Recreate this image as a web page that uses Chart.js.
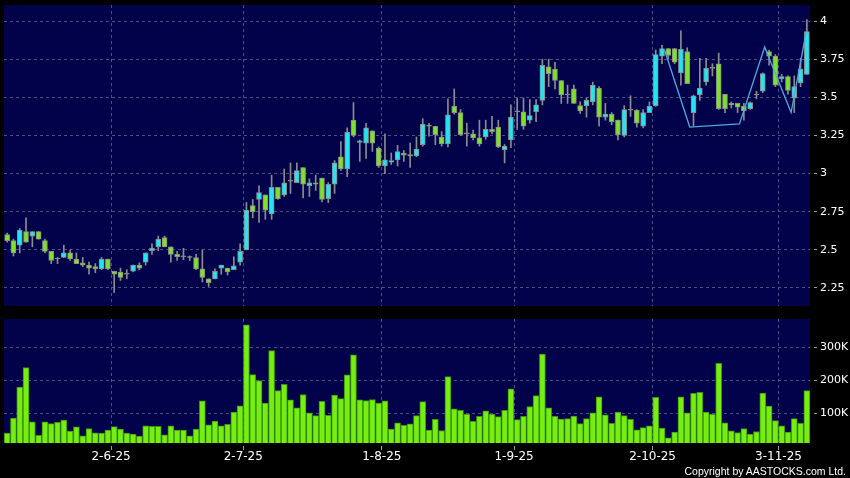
<!DOCTYPE html>
<html>
<head>
<meta charset="utf-8">
<script src="https://cdn.jsdelivr.net/npm/chart.js@4/dist/chart.umd.min.js"></script>
<style>
  html, body { margin: 0; padding: 0; background: #000; }
  #wrap { position: relative; width: 850px; height: 478px; background: #000; overflow: hidden; }
  #priceChart { position: absolute; left: 0; top: 0; }
  #volChart { position: absolute; left: 0; top: 310px; }
  #copy { position: absolute; right: 4px; top: 465px; font: 10.5px "Liberation Sans", Arial, sans-serif; line-height: 13px; color: #fff; }
</style>
</head>
<body>
<div id="wrap">
  <canvas id="priceChart" width="850" height="310"></canvas>
  <canvas id="volChart" width="850" height="168"></canvas>
  <div id="copy">Copyright by AASTOCKS.com Ltd.</div>
</div>
<script>
// daily candles, 8-May-25 .. 7-Nov-25
const open = [2.60, 2.56, 2.53, 2.62, 2.59, 2.62, 2.56, 2.49, 2.44, 2.45,
  2.48, 2.44, 2.415, 2.40, 2.39, 2.375, 2.44, 2.36, 2.355, 2.34,
  2.36, 2.40, 2.42, 2.495, 2.52, 2.58, 2.52, 2.47, 2.455, 2.455,
  2.45, 2.375, 2.31, 2.31, 2.38, 2.38, 2.37, 2.42, 2.50, 2.79,
  2.83, 2.86, 2.735, 2.91, 2.86, 2.95, 2.94, 3.04, 2.92, 2.94,
  2.97, 2.835, 2.93, 3.11, 3.03, 3.35, 3.205, 3.20, 3.28, 3.165,
  3.05, 3.075, 3.09, 3.135, 3.125, 3.115, 3.19, 3.315, 3.31, 3.24,
  3.195, 3.44, 3.40, 3.26, 3.26, 3.235, 3.24, 3.29, 3.305, 3.155,
  3.22, 3.405, 3.405, 3.35, 3.405, 3.48, 3.70, 3.685, 3.61, 3.515,
  3.555, 3.445, 3.445, 3.47, 3.56, 3.37, 3.39, 3.35, 3.25, 3.415,
  3.415, 3.31, 3.40, 3.445, 3.77, 3.82, 3.82, 3.66, 3.80, 3.40,
  3.515, 3.60, 3.69, 3.72, 3.52, 3.46, 3.46, 3.44, 3.425, 3.515,
  3.54, 3.80, 3.77, 3.62, 3.635, 3.495, 3.595, 3.65];
const high = [2.61, 2.57, 2.64, 2.71, 2.62, 2.62, 2.57, 2.49, 2.45, 2.53,
  2.50, 2.48, 2.45, 2.42, 2.41, 2.45, 2.44, 2.36, 2.38, 2.37,
  2.40, 2.415, 2.48, 2.54, 2.59, 2.59, 2.52, 2.49, 2.51, 2.46,
  2.47, 2.50, 2.31, 2.375, 2.40, 2.38, 2.455, 2.54, 2.81, 2.83,
  2.92, 2.86, 2.99, 2.91, 3.03, 3.07, 3.07, 3.04, 2.965, 2.99,
  2.97, 2.94, 3.085, 3.21, 3.30, 3.465, 3.22, 3.33, 3.28, 3.175,
  3.26, 3.135, 3.185, 3.15, 3.20, 3.24, 3.36, 3.33, 3.31, 3.275,
  3.49, 3.555, 3.42, 3.33, 3.285, 3.35, 3.35, 3.375, 3.35, 3.19,
  3.45, 3.495, 3.495, 3.485, 3.485, 3.75, 3.75, 3.73, 3.61, 3.58,
  3.58, 3.47, 3.495, 3.60, 3.57, 3.46, 3.40, 3.35, 3.445, 3.51,
  3.42, 3.42, 3.47, 3.81, 3.84, 3.82, 3.82, 3.935, 3.825, 3.515,
  3.755, 3.755, 3.72, 3.79, 3.52, 3.47, 3.46, 3.46, 3.47, 3.54,
  3.66, 3.81, 3.78, 3.65, 3.64, 3.64, 3.755, 4.01];
const low = [2.55, 2.46, 2.48, 2.55, 2.52, 2.57, 2.48, 2.41, 2.41, 2.45,
  2.43, 2.41, 2.39, 2.34, 2.35, 2.37, 2.37, 2.22, 2.30, 2.31,
  2.355, 2.37, 2.40, 2.47, 2.495, 2.52, 2.42, 2.43, 2.435, 2.43,
  2.37, 2.29, 2.26, 2.31, 2.34, 2.335, 2.37, 2.40, 2.50, 2.71,
  2.68, 2.70, 2.70, 2.83, 2.85, 2.87, 2.94, 2.84, 2.85, 2.89,
  2.815, 2.81, 2.87, 3.02, 2.98, 3.24, 3.08, 3.10, 3.145, 3.04,
  3.00, 3.06, 3.05, 3.08, 3.04, 3.11, 3.18, 3.245, 3.19, 3.18,
  3.175, 3.39, 3.25, 3.18, 3.22, 3.18, 3.225, 3.26, 3.17, 3.07,
  3.17, 3.29, 3.29, 3.33, 3.34, 3.45, 3.57, 3.555, 3.46, 3.46,
  3.46, 3.395, 3.37, 3.45, 3.31, 3.35, 3.32, 3.22, 3.24, 3.375,
  3.305, 3.30, 3.40, 3.44, 3.72, 3.75, 3.72, 3.58, 3.59, 3.31,
  3.48, 3.58, 3.64, 3.42, 3.40, 3.43, 3.40, 3.35, 3.42, 3.49,
  3.53, 3.71, 3.57, 3.60, 3.52, 3.40, 3.57, 3.65];
const close = [2.56, 2.48, 2.63, 2.55, 2.62, 2.57, 2.49, 2.43, 2.44, 2.48,
  2.44, 2.41, 2.40, 2.38, 2.375, 2.44, 2.375, 2.34, 2.32, 2.34,
  2.40, 2.38, 2.48, 2.51, 2.57, 2.52, 2.47, 2.455, 2.455, 2.45,
  2.375, 2.32, 2.285, 2.36, 2.40, 2.355, 2.395, 2.49, 2.76, 2.75,
  2.875, 2.76, 2.91, 2.835, 2.94, 2.95, 3.02, 2.93, 2.94, 2.93,
  2.83, 2.93, 3.07, 3.03, 3.27, 3.25, 3.215, 3.30, 3.20, 3.05,
  3.09, 3.085, 3.145, 3.12, 3.115, 3.16, 3.325, 3.31, 3.255, 3.195,
  3.385, 3.40, 3.255, 3.26, 3.235, 3.195, 3.29, 3.275, 3.175, 3.18,
  3.37, 3.405, 3.31, 3.38, 3.45, 3.71, 3.655, 3.61, 3.515, 3.515,
  3.46, 3.41, 3.48, 3.58, 3.37, 3.39, 3.34, 3.255, 3.42, 3.415,
  3.33, 3.40, 3.44, 3.78, 3.82, 3.775, 3.73, 3.815, 3.59, 3.51,
  3.56, 3.69, 3.69, 3.425, 3.425, 3.45, 3.435, 3.41, 3.465, 3.515,
  3.655, 3.77, 3.58, 3.635, 3.545, 3.57, 3.685, 3.93];
// volume in thousands of shares
const volume = [39, 85, 179, 238, 73, 32, 73, 68, 72, 79,
  45, 58, 31, 53, 40, 39, 48, 59, 51, 39,
  36, 30, 61, 60, 60, 34, 61, 48, 48, 31,
  51, 137, 64, 76, 61, 66, 103, 122, 368, 217,
  199, 130, 290, 168, 187, 140, 116, 156, 101, 92,
  136, 93, 155, 144, 216, 277, 140, 138, 141, 130,
  137, 51, 70, 63, 67, 92, 135, 48, 81, 47,
  211, 113, 108, 97, 75, 90, 107, 97, 89, 108,
  174, 80, 90, 120, 153, 279, 116, 90, 82, 83,
  91, 68, 83, 101, 149, 95, 69, 103, 92, 81,
  49, 56, 61, 148, 54, 25, 42, 149, 101, 160,
  163, 103, 96, 251, 70, 46, 41, 53, 36, 44,
  161, 121, 77, 61, 42, 83, 69, 168];

// month starts shown on the date axis (bar index of that day)
const tickLabels = ['2-6-25', '2-7-25', '1-8-25', '1-9-25', '2-10-25', '3-11-25'];
const tickAt = [17, 38, 60, 81, 103, 123];
const priceTicks = [2.25, 2.5, 2.75, 3, 3.25, 3.5, 3.75, 4];
const volTicks = [100, 200, 300];

// hand-drawn pattern line (bar position, price)
const patternX = [104.4, 108.4, 116.3, 120.3, 124.5, 126.9];
const patternY = [3.81, 3.305, 3.325, 3.83, 3.40, 3.93];

const UP = '#22e4f2';
const DOWN = '#7ee22a';
const FLAT = '#8c8c8c';
const GRID = '#4c4c86';
const PLOT_BG = '#02024a';

const plotBg = {
  id: 'plotBg',
  beforeDraw(chart) {
    const { ctx, chartArea: a } = chart;
    ctx.save();
    ctx.fillStyle = PLOT_BG;
    ctx.fillRect(a.left, a.top, a.right - a.left, a.bottom - a.top);
    ctx.restore();
  }
};

function candleColor(i) {
  if (close[i] > open[i]) return UP;
  if (close[i] < open[i]) return DOWN;
  return FLAT;
}

const n = open.length;
const xAxis = (showLabels) => ({
  type: 'linear',
  min: -0.5,
  max: n - 0.5,
  offset: false,
  bounds: 'data',
  afterBuildTicks: ax => { ax.ticks = tickAt.map(v => ({ value: v - 0.5 })); },
  afterFit: ax => {
    ax.height = showLabels ? 35 : 4;
    ax.paddingLeft = 0;
    ax.paddingRight = 0;
  },
  ticks: {
    display: showLabels,
    autoSkip: false,
    maxRotation: 0,
    padding: 0,
    color: '#ffffff',
    font: { family: 'DejaVu Sans', size: 12 },
    callback: (v, idx) => tickLabels[idx]
  },
  grid: {
    offset: false,
    color: GRID,
    drawTicks: showLabels,
    tickLength: 7,
    tickColor: '#9a9a9a',
    tickBorderDash: [0, 3, 4, 40]
  },
  border: { display: false, dash: [3, 3] }
});

const yAxis = (min, max, ticks, fmt) => ({
  position: 'right',
  min: min,
  max: max,
  afterBuildTicks: ax => { ax.ticks = ticks.map(v => ({ value: v })); },
  afterFit: ax => {
    ax.width = 40;
    ax.paddingTop = 0;
    ax.paddingBottom = 0;
  },
  ticks: {
    color: '#ffffff',
    padding: 3,
    font: { family: 'DejaVu Sans', size: 11 },
    callback: fmt
  },
  grid: {
    color: GRID,
    tickLength: 7,
    tickColor: '#9a9a9a',
    tickBorderDash: [0, 4, 3, 40]
  },
  border: { display: false, dash: [3, 3] }
});

new Chart(document.getElementById('priceChart'), {
  type: 'bar',
  data: {
    datasets: [
      {
        type: 'line',
        data: patternX.map((x, i) => ({ x: x, y: patternY[i] })),
        borderColor: '#4ea8e2',
        borderWidth: 1.3,
        pointRadius: 0,
        tension: 0,
        order: 0
      },
      {
        data: open.map((o, i) => ({ x: i, y: [o, close[i]] })),
        backgroundColor: open.map((o, i) => candleColor(i)),
        borderColor: FLAT,
        borderWidth: 1,
        borderSkipped: false,
        barThickness: 5,
        minBarLength: 1,
        grouped: false,
        order: 1
      },
      {
        data: low.map((l, i) => ({ x: i, y: [l, high[i]] })),
        backgroundColor: FLAT,
        borderWidth: 0,
        barThickness: 1,
        grouped: false,
        order: 2
      }
    ]
  },
  options: {
    responsive: false,
    animation: false,
    layout: { padding: { left: 4, top: 5, right: 0, bottom: 0 } },
    plugins: { legend: { display: false }, tooltip: { enabled: false } },
    scales: {
      x: xAxis(false),
      y: yAxis(2.132, 4.105, priceTicks, v => String(v))
    }
  },
  plugins: [plotBg]
});

new Chart(document.getElementById('volChart'), {
  type: 'bar',
  data: {
    datasets: [{
      data: volume.map((v, i) => ({ x: i, y: v })),
      backgroundColor: '#76ee12',
      borderColor: '#3c9608',
      borderWidth: 1,
      borderSkipped: 'bottom',
      barThickness: 6,
      grouped: false
    }]
  },
  options: {
    responsive: false,
    animation: false,
    layout: { padding: { left: 4, top: 9, right: 0, bottom: 0 } },
    plugins: { legend: { display: false }, tooltip: { enabled: false } },
    scales: {
      x: xAxis(true),
      y: yAxis(9, 386, volTicks, v => v + 'K')
    }
  },
  plugins: [plotBg]
});
</script>
</body>
</html>
